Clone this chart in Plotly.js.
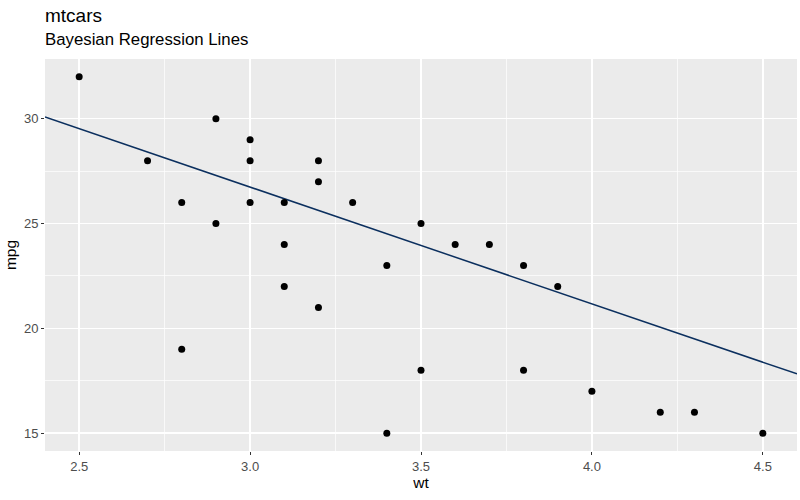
<!DOCTYPE html>
<html><head><meta charset="utf-8">
<script src="https://cdn.plot.ly/plotly-3.0.1.min.js"></script>
<style>body{margin:0;background:#fff}#c{width:800px;height:500px}</style>
</head><body><div id="c"></div>
<script>
const wt  = [2.5, 2.7, 2.8, 2.8, 2.9, 2.9, 3.0, 3.0, 3.0, 3.1, 3.1, 3.1, 3.2, 3.2, 3.2, 3.3, 3.4, 3.4, 3.5, 3.5, 3.6, 3.7, 3.8, 3.8, 3.9, 4.0, 4.2, 4.3, 4.5];
const mpg = [32, 28, 26, 19, 30, 25, 29, 28, 26, 26, 24, 22, 28, 27, 21, 26, 23, 15, 25, 18, 24, 24, 23, 18, 22, 17, 16, 16, 15];
const lineIntercept = 43.45;
const lineSlope = -5.57;
const xTicks = [2.5, 3.0, 3.5, 4.0, 4.5];
const xTickLabels = ["2.5", "3.0", "3.5", "4.0", "4.5"];
const xMinor = [2.75, 3.25, 3.75, 4.25];
const yTicks = [15, 20, 25, 30];
const yMinor = [17.5, 22.5, 27.5];
const xRange = [2.4, 4.6];
const yRange = [14.15, 32.85];
const titleText = 'mtcars';
const subtitleText = 'Bayesian Regression Lines';

const lineX = xRange.slice();
const lineY = lineX.map(x => lineIntercept + lineSlope * x);

const font = "Liberation Sans, Arial, sans-serif";
const data = [
  {x: lineX, y: lineY, mode: 'lines', line: {color: '#0b2f5e', width: 1.5}, hoverinfo: 'skip'},
  {x: wt, y: mpg, mode: 'markers', marker: {color: '#000', size: 7}}
];
const layout = {
  width: 800, height: 500,
  margin: {l: 45, r: 3, t: 59, b: 49},
  paper_bgcolor: '#fff', plot_bgcolor: '#ebebeb',
  showlegend: false,
  font: {family: font},
  annotations: [
    {text: titleText, xref: 'paper', yref: 'paper', x: 0, y: 1, xanchor: 'left', yanchor: 'bottom', yshift: 31, xshift: -2,
     showarrow: false, font: {size: 19, color: '#000'}},
    {text: subtitleText, xref: 'paper', yref: 'paper', x: 0, y: 1, xanchor: 'left', yanchor: 'bottom', yshift: 8, xshift: -2,
     showarrow: false, font: {size: 16.8, color: '#000'}}
  ],
  xaxis: {range: xRange, tickvals: xTicks, ticktext: xTickLabels, showgrid: true, gridcolor: '#fff', gridwidth: 1.4,
          zeroline: false, showline: false, ticks: 'outside', ticklen: 3, tickcolor: '#333', tickwidth: 1,
          tickfont: {size: 13, color: '#4d4d4d'},
          minor: {tickvals: xMinor, showgrid: true, gridcolor: '#fff', gridwidth: 0.7, ticks: ''},
          title: {text: 'wt', font: {size: 15.5, color: '#000'}, standoff: 3}},
  yaxis: {range: yRange, tickvals: yTicks, showgrid: true, gridcolor: '#fff', gridwidth: 1.4,
          zeroline: false, showline: false, ticks: 'outside', ticklen: 3, tickcolor: '#333', tickwidth: 1,
          tickfont: {size: 13, color: '#4d4d4d'},
          minor: {tickvals: yMinor, showgrid: true, gridcolor: '#fff', gridwidth: 0.7, ticks: ''},
          title: {text: 'mpg', font: {size: 15.5, color: '#000'}, standoff: 3}}
};
Plotly.newPlot('c', data, layout, {displayModeBar: false, staticPlot: true});
</script></body></html>
